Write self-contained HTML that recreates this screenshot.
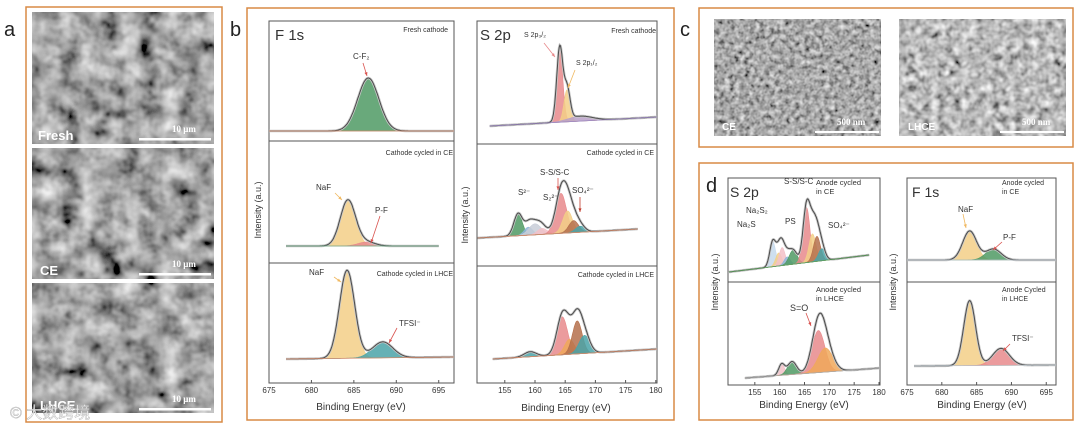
<!DOCTYPE html>
<html><head><meta charset="utf-8"><style>
html,body{margin:0;padding:0;background:#fff;}
svg{display:block;font-family:"Liberation Sans","Noto Sans CJK SC",sans-serif;}
</style></head><body>
<svg id="fig" width="1080" height="429" viewBox="0 0 1080 429" xmlns="http://www.w3.org/2000/svg">
<defs>
<filter id="semA" x="0" y="0" width="100%" height="100%"><feTurbulence type="fractalNoise" baseFrequency="0.05" numOctaves="3" seed="3"/><feColorMatrix type="matrix" values="0.33 0.33 0.33 0 0  0.33 0.33 0.33 0 0  0.33 0.33 0.33 0 0  0 0 0 0 1"/><feComponentTransfer><feFuncR type="linear" slope="2.0" intercept="-0.62"/><feFuncG type="linear" slope="2.0" intercept="-0.62"/><feFuncB type="linear" slope="2.0" intercept="-0.62"/></feComponentTransfer></filter>
<filter id="semC" x="0" y="0" width="100%" height="100%"><feTurbulence type="fractalNoise" baseFrequency="0.2" numOctaves="2" seed="7"/><feColorMatrix type="matrix" values="0.33 0.33 0.33 0 0  0.33 0.33 0.33 0 0  0.33 0.33 0.33 0 0  0 0 0 0 1"/><feComponentTransfer><feFuncR type="linear" slope="1.8" intercept="-0.5"/><feFuncG type="linear" slope="1.8" intercept="-0.5"/><feFuncB type="linear" slope="1.8" intercept="-0.5"/></feComponentTransfer></filter>
<filter id="semD" x="0" y="0" width="100%" height="100%"><feTurbulence type="fractalNoise" baseFrequency="0.13" numOctaves="2" seed="11"/><feColorMatrix type="matrix" values="0.33 0.33 0.33 0 0  0.33 0.33 0.33 0 0  0.33 0.33 0.33 0 0  0 0 0 0 1"/><feComponentTransfer><feFuncR type="linear" slope="2.0" intercept="-0.5"/><feFuncG type="linear" slope="2.0" intercept="-0.5"/><feFuncB type="linear" slope="2.0" intercept="-0.5"/></feComponentTransfer></filter>
</defs>

<!-- panel a -->
<text x="4" y="36" font-size="20" fill="#222">a</text>
<rect x="26" y="7" width="196" height="415" fill="none" stroke="#d98a45" stroke-width="1.5"/>
<g><rect x="32" y="12" width="182" height="132" filter="url(#semA)"/><text x="38" y="140" font-size="13" font-weight="bold" fill="#fff">Fresh</text><text x="172" y="132" font-size="9" font-weight="bold" fill="#fff" font-family="Liberation Serif,serif">10 μm</text><rect x="139" y="138" width="72" height="2.5" fill="#fff"/></g>
<g><rect x="32" y="148" width="182" height="131" filter="url(#semA)"/><text x="40" y="275" font-size="13" font-weight="bold" fill="#fff">CE</text><text x="172" y="267" font-size="9" font-weight="bold" fill="#fff" font-family="Liberation Serif,serif">10 μm</text><rect x="139" y="273" width="72" height="2.5" fill="#fff"/></g>
<g><rect x="32" y="283" width="182" height="130" filter="url(#semA)"/><text x="40" y="410" font-size="13" font-weight="bold" fill="#fff">LHCE</text><text x="172" y="402" font-size="9" font-weight="bold" fill="#fff" font-family="Liberation Serif,serif">10 μm</text><rect x="139" y="408" width="72" height="2.5" fill="#fff"/></g>
<text x="10" y="418" font-size="16" fill="#fff" fill-opacity="0.85" stroke="#aaa" stroke-width="0.4">© 大数跨境</text>

<!-- panel b -->
<text x="230" y="36" font-size="20" fill="#222">b</text>
<rect x="247" y="8" width="427" height="412" fill="none" stroke="#d98a45" stroke-width="1.5"/>

<!-- panel c -->
<text x="680" y="36" font-size="20" fill="#222">c</text>
<rect x="699" y="8" width="374" height="139" fill="none" stroke="#d98a45" stroke-width="1.5"/>
<g><rect x="714" y="19" width="167" height="117" filter="url(#semC)"/><text x="722" y="130" font-size="10" font-weight="bold" fill="#fff">CE</text><text x="837" y="125" font-size="9" font-weight="bold" fill="#fff" font-family="Liberation Serif,serif">500 nm</text><rect x="815" y="131" width="64" height="2" fill="#fff"/></g>
<g><rect x="899" y="19" width="167" height="117" filter="url(#semD)"/><text x="908" y="130" font-size="10" font-weight="bold" fill="#fff">LHCE</text><text x="1022" y="125" font-size="9" font-weight="bold" fill="#fff" font-family="Liberation Serif,serif">500 nm</text><rect x="1000" y="131" width="64" height="2" fill="#fff"/></g>

<!-- panel d -->
<text x="706" y="192" font-size="20" fill="#222">d</text>
<rect x="699" y="163" width="374" height="257" fill="none" stroke="#d98a45" stroke-width="1.5"/>

<g id="plots"></g>
</svg>
<script>
// ---------- data ----------
// b: F 1s
const bF1sFreshCenters=[686.7], bF1sFreshHeights=[53], bF1sFreshWidths=[1.25];
const bF1sCECenters=[684.3,686.5], bF1sCEHeights=[46,4], bF1sCEWidths=[0.9,1.0];
const bF1sLHCECenters=[684.2,688.4], bF1sLHCEHeights=[88,16], bF1sLHCEWidths=[0.9,1.2];
// b: S 2p
const bS2pFreshCenters=[164.1,165.3,167.5], bS2pFreshHeights=[74,32,5], bS2pFreshWidths=[0.5,0.5,2.0];
const bS2pCECenters=[157.2,158.9,160.0,161.2,164.3,165.4,166.4,167.5], bS2pCEHeights=[22,8,11,6,40,22,12,6], bS2pCEWidths=[0.7,0.7,1.0,0.8,0.9,0.8,0.8,0.8];
const bS2pLHCECenters=[159.2,164.5,165.7,167.0,168.2], bS2pLHCEHeights=[5,38,15,33,18], bS2pLHCEWidths=[1.0,0.9,0.8,0.8,0.9];
// d: S 2p
const dS2pCECenters=[158.6,159.8,160.5,161.5,162.7,165.4,166.6,167.5,168.5], dS2pCEHeights=[25,13,18,8,14,55,28,25,12], dS2pCEWidths=[0.6,0.6,0.6,0.6,0.8,0.7,0.7,0.7,0.7];
const dS2pLHCECenters=[160.4,162.5,167.8,169.2], dS2pLHCEHeights=[11,13,42,24], dS2pLHCEWidths=[0.6,0.9,1.3,1.5];
// d: F 1s
const dF1sCECenters=[684.0,687.4], dF1sCEHeights=[29,11], dF1sCEWidths=[1.0,1.1];
const dF1sLHCECenters=[684.0,688.5], dF1sLHCEHeights=[65,17], dF1sLHCEWidths=[0.85,1.2];
// tick labels
const f1sTicks=[675,680,685,690,695];
const s2pTicks=[155,160,165,170,175,180];

const COL={red:'#e88a8c',yel:'#f3cf87',grn:'#4f9a64',teal:'#4aa3a8',brn:'#b5704c',lb:'#c6d9ec',gb:'#c9ced8',pk:'#f3c1c8',org:'#f0a85a',blue:'#8fb6d8'};
const NS='http://www.w3.org/2000/svg';
const root=document.getElementById('plots');
function mk(tag,attrs,parent){const e=document.createElementNS(NS,tag);for(const k in attrs)e.setAttribute(k,attrs[k]);(parent||root).appendChild(e);return e;}
function txt(x,y,s,size,parent,anchor,extra){const t=mk('text',Object.assign({x:x,y:y,'font-size':size,fill:'#333','text-anchor':anchor||'start'},extra||{}),parent);t.textContent=s;return t;}

function plot(name,fx,fy,fw,fh,xmin,xmax,ticks,subs){
  const g=mk('g',{});
  
  
  const xs=v=>fx+(v-xmin)/(xmax-xmin)*fw;
  const fr=mk('rect',{x:fx,y:fy,width:fw,height:fh,fill:'none',stroke:'#555','stroke-width':1},g);
  
  
  ticks.forEach(t=>{
    const X=xs(t);
    mk('line',{x1:X,x2:X,y1:fy+fh,y2:fy+fh-3,stroke:'#555'},g);
    const tl=txt(X,fy+fh+10,String(t),8,g,'middle');
    
    
  });
  subs.forEach((s,i)=>{
    if(i>0){mk('line',{x1:fx,x2:fx+fw,y1:s.top,y2:s.top,stroke:'#555'},g);}
    const by=v=>s.b0+(s.b1-s.b0)*(v-s.x0)/(s.x1-s.x0);
    const gauss=(v,k)=>s.h[k]*Math.exp(-0.5*Math.pow((v-s.c[k])/s.w[k],2));
    const N=260, step=(s.x1-s.x0)/N;
    s.c.forEach((c,k)=>{
      let d='',first=true;
      for(let j=0;j<=N;j++){const v=s.x0+j*step;d+=(first?'M':'L')+xs(v).toFixed(1)+','+(by(v)-gauss(v,k)).toFixed(1);first=false;}
      d+='L'+xs(s.x1).toFixed(1)+','+by(s.x1).toFixed(1)+'L'+xs(s.x0).toFixed(1)+','+by(s.x0).toFixed(1)+'Z';
      const p=mk('path',{d:d,fill:s.col[k],'fill-opacity':0.85,stroke:s.col[k],'stroke-width':0.6},g);
      
      
    });
    let d='';
    for(let j=0;j<=N;j++){const v=s.x0+j*step;let y=by(v);s.c.forEach((c,k)=>{y-=gauss(v,k);});d+=(j?'L':'M')+xs(v).toFixed(1)+','+y.toFixed(1);}
    mk('path',{d:d,fill:'none',stroke:'#c8c8c8','stroke-width':2.6},g);
    const env=mk('path',{d:d,fill:'none',stroke:'#4a4a4a','stroke-width':1},g);
    
    
    mk('line',{x1:xs(s.x0),y1:s.b0,x2:xs(s.x1),y2:s.b1,stroke:s.bl||'#d48a6a','stroke-width':0.8},g);
  });
  return {g:g,xs:xs};
}

// b F1s
const p1=plot('b-f1s-plot',269,21,185,362,675,696.8,f1sTicks,[
 {top:21,x0:675,x1:696.8,b0:131,b1:131,c:bF1sFreshCenters,h:bF1sFreshHeights,w:bF1sFreshWidths,col:[COL.grn]},
 {top:141,x0:677,x1:695,b0:246,b1:246,c:bF1sCECenters,h:bF1sCEHeights,w:bF1sCEWidths,col:[COL.yel,COL.red],bl:'#6fb08a'},
 {top:263,x0:677,x1:696.8,b0:359,b1:357,c:bF1sLHCECenters,h:bF1sLHCEHeights,w:bF1sLHCEWidths,col:[COL.yel,COL.teal]}]);
// b S2p
const p2=plot('b-s2p-plot',477,21,180,362,150.4,180.2,s2pTicks,[
 {top:21,x0:152.5,x1:180.2,b0:126,b1:117,c:bS2pFreshCenters,h:bS2pFreshHeights,w:bS2pFreshWidths,col:[COL.red,COL.yel,'#b9a0c8'],bl:'#9a86c0'},
 {top:144,x0:150.5,x1:177,b0:238,b1:229,c:bS2pCECenters,h:bS2pCEHeights,w:bS2pCEWidths,col:[COL.grn,COL.blue,COL.gb,COL.pk,COL.red,COL.yel,COL.brn,COL.teal]},
 {top:266,x0:153,x1:180.2,b0:359,b1:349,c:bS2pLHCECenters,h:bS2pLHCEHeights,w:bS2pLHCEWidths,col:[COL.teal,COL.red,COL.org,COL.brn,COL.teal]}]);
// d S2p
const p3=plot('d-s2p-plot',728,178,152,207,149.6,180.2,s2pTicks,[
 {top:178,x0:149.8,x1:178,b0:272,b1:255,c:dS2pCECenters,h:dS2pCEHeights,w:dS2pCEWidths,col:[COL.lb,COL.yel,COL.pk,COL.blue,COL.grn,COL.red,COL.yel,COL.brn,COL.teal],bl:'#5aa05a'},
 {top:282,x0:153,x1:180.2,b0:378,b1:368,c:dS2pLHCECenters,h:dS2pLHCEHeights,w:dS2pLHCEWidths,col:[COL.pk,COL.grn,COL.red,COL.org],bl:'#aaa'}]);
// d F1s
const p4=plot('d-f1s-plot',907,178,149,207,675,696.4,f1sTicks,[
 {top:178,x0:675,x1:696.4,b0:260,b1:260,c:dF1sCECenters,h:dF1sCEHeights,w:dF1sCEWidths,col:[COL.yel,COL.grn],bl:'#b8c4cc'},
 {top:282,x0:676,x1:696.4,b0:366,b1:365,c:dF1sLHCECenters,h:dF1sLHCEHeights,w:dF1sLHCEWidths,col:[COL.yel,COL.red],bl:'#b8c4cc'}]);

// axis titles
function title(x,y,s,size,rot,name){const t=txt(x,y,s,size,root,'middle',rot?{transform:'rotate(-90 '+x+' '+y+')'}:{});}
title(361,410,'Binding Energy (eV)',10,false,'b-f1s-x-title');
title(566,411,'Binding Energy (eV)',10,false,'b-s2p-x-title');
title(804,408,'Binding Energy (eV)',10,false,'d-s2p-x-title');
title(982,408,'Binding Energy (eV)',10,false,'d-f1s-x-title');
title(261,210,'Intensity (a.u.)',9,true,'b-f1s-y-title');
title(468,215,'Intensity (a.u.)',9,true,'b-s2p-y-title');
title(718,282,'Intensity (a.u.)',9,true,'d-s2p-y-title');
title(896,282,'Intensity (a.u.)',9,true,'d-f1s-y-title');

// annotations
function ann(x,y,s,size,name,anchor){const t=txt(x,y,s,size,root,anchor||'start');return t;}
function arrow(x1,y1,x2,y2,c){mk('line',{x1:x1,y1:y1,x2:x2,y2:y2,stroke:c,'stroke-width':0.8});const a=Math.atan2(y2-y1,x2-x1);mk('path',{d:'M'+x2+','+y2+'L'+(x2-4*Math.cos(a-0.4))+','+(y2-4*Math.sin(a-0.4))+'L'+(x2-4*Math.cos(a+0.4))+','+(y2-4*Math.sin(a+0.4))+'Z',fill:c});}
ann(275,40,'F 1s',15,'b-f1s-title');
ann(448,32,'Fresh cathode',7,'b-f1s-sub1','end');
ann(453,155,'Cathode cycled in CE',7,'b-f1s-sub2','end');
ann(453,276,'Cathode cycled in LHCE',7,'b-f1s-sub3','end');
ann(353,59,'C-F₂',8,'label-cf2');arrow(363,63,367,76,'#d9534f');
ann(316,190,'NaF',8,'label-naf-ce');arrow(335,193,342,200,'#f0b860');
ann(375,213,'P-F',8,'label-pf-ce');arrow(380,216,371,243,'#d9534f');
ann(309,275,'NaF',8,'label-naf-lhce');arrow(334,277,341,282,'#f0b860');
ann(399,326,'TFSI⁻',8,'label-tfsi');arrow(397,328,389,343,'#d9534f');

ann(480,40,'S 2p',15,'b-s2p-title');
ann(656,33,'Fresh cathode',7,'b-s2p-sub1','end');
ann(654,155,'Cathode cycled in CE',7,'b-s2p-sub2','end');
ann(654,277,'Cathode cycled in LHCE',7,'b-s2p-sub3','end');
ann(524,37,'S 2p₃/₂',7,'label-s2p32');arrow(544,43,555,57,'#e88a8c');
ann(576,65,'S 2p₁/₂',7,'label-s2p12');arrow(575,70,568,88,'#f0b860');
ann(540,175,'S-S/S-C',8,'label-ss-sc');
ann(518,195,'S²⁻',8,'label-s2');
ann(543,200,'S₂²⁻',8,'label-s22');
ann(572,193,'SO₄²⁻',8,'label-so4');arrow(580,197,580,212,'#c0392b');
arrow(558,178,558,190,'#d9534f');

ann(730,197,'S 2p',14,'d-s2p-title');
ann(784,184,'S-S/S-C',8,'label-d-ss');
ann(816,185,'Anode cycled',7.5,'d-s2p-sub1');ann(816,194,'in CE',7.5,'d-s2p-sub1b');
ann(746,213,'Na₂S₂',8,'label-na2s2');ann(737,227,'Na₂S',8,'label-na2s');
ann(785,224,'PS',8,'label-ps');ann(828,228,'SO₄²⁻',8,'label-d-so4');
ann(816,292,'Anode cycled',7.5,'d-s2p-sub2');ann(816,301,'in LHCE',7.5,'d-s2p-sub2b');
ann(790,311,'S=O',9,'label-so');arrow(806,313,811,326,'#d9534f');
ann(912,197,'F 1s',14,'d-f1s-title');
ann(1002,185,'Anode cycled',7,'d-f1s-sub1');ann(1002,194,'in CE',7,'d-f1s-sub1b');
ann(958,212,'NaF',8,'label-d-naf');arrow(963,214,966,228,'#f0b860');
ann(1003,240,'P-F',8,'label-d-pf');arrow(1002,242,993,250,'#d9534f');
ann(1002,292,'Anode Cycled',7,'d-f1s-sub2');ann(1002,301,'in LHCE',7,'d-f1s-sub2b');
ann(1012,341,'TFSI⁻',8,'label-d-tfsi');arrow(1010,344,1003,351,'#d9534f');
</script>
</body></html>
